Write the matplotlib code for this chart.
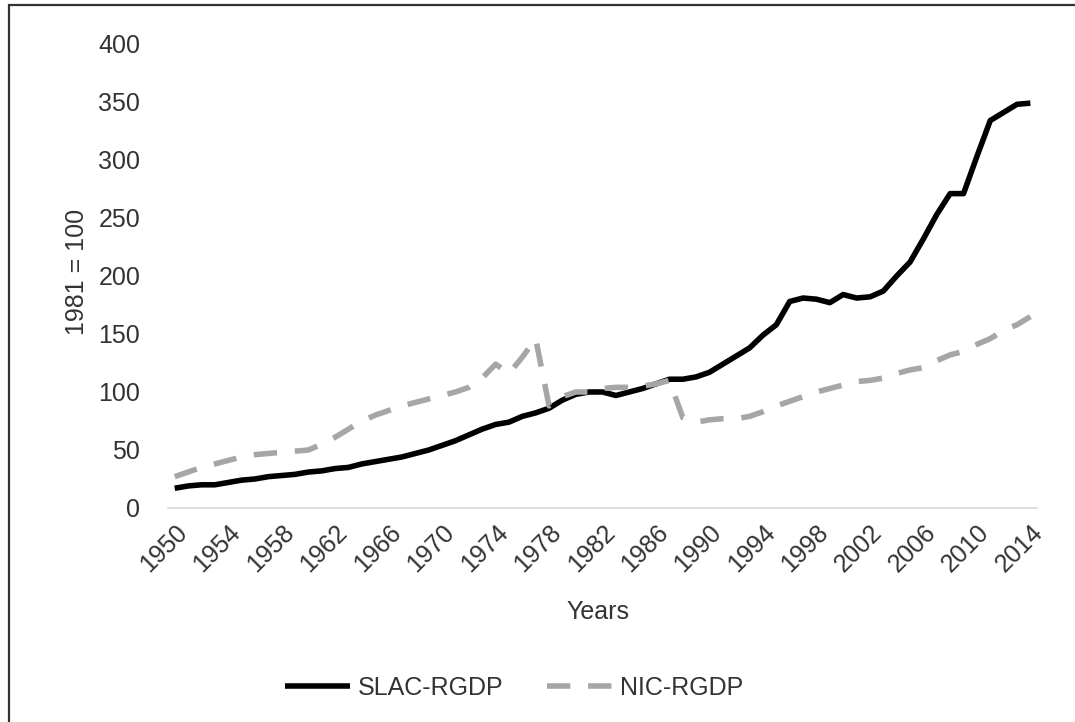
import matplotlib
matplotlib.use("Agg")
from matplotlib import pyplot as plt
from matplotlib.patches import Rectangle

# Data (1981 = 100)
years = list(range(1950, 2015))
slac_rgdp = [17, 19, 20, 20, 22, 24, 25, 27, 28, 29,
             31, 32, 34, 35, 38, 40, 42, 44, 47, 50,
             54, 58, 63, 68, 72, 74, 79, 82, 86, 93,
             98, 100, 100, 97, 100, 103, 107, 111, 111, 113,
             117, 124, 131, 138, 149, 158, 178, 181, 180, 177,
             184, 181, 182, 187, 200, 212, 232, 253, 271, 271,
             303, 334, 341, 348, 349]
nic_rgdp = [27, 31, 35, 38, 41, 44, 46, 47, 48, 49,
            50, 55, 61, 68, 75, 80, 84, 88, 91, 94,
            97, 100, 104, 112, 124, 116, 130, 146, 88, 96,
            100, 100, 103, 104, 104, 105, 107, 110, 78, 74,
            76, 77, 77, 79, 83, 88, 92, 96, 100, 103,
            106, 109, 110, 112, 116, 119, 121, 127, 132, 135,
            141, 146, 153, 158, 165]
tick_years = list(range(1950, 2015, 4))
y_ticks = [0, 50, 100, 150, 200, 250, 300, 350, 400]

plt.rcParams['font.family'] = ['Liberation Sans', 'DejaVu Sans']
txt = '#333333'
fs = 18

fig = plt.figure(figsize=(10.75, 7.22), dpi=100)
ax = fig.add_axes([0.1563, 0.2964, 0.8084, 0.6427])

# frame of the screenshot (only left and top visible)
fig.patches.append(Rectangle((9 / 1075, -0.1), 1.2, 1.1 - 5 / 722,
                             transform=fig.transFigure, fill=False,
                             edgecolor='#333333', linewidth=1.6))

ax.plot(years, slac_rgdp, color='black', linewidth=4, label='SLAC-RGDP',
        solid_capstyle='butt')
ax.plot(years, nic_rgdp, color='#a6a6a6', linewidth=4, label='NIC-RGDP',
        dashes=(4.2, 3.2))

ax.set_xlim(1949.5, 2014.5)
ax.set_ylim(0, 400)
ax.set_yticks(y_ticks)
ax.set_xticks(tick_years)
ax.set_xticklabels([str(y) for y in tick_years], rotation=45, ha='right',
                   va='top', rotation_mode='anchor')
ax.tick_params(axis='both', length=0, labelsize=fs, colors=txt)
ax.tick_params(axis='x', pad=9)
ax.tick_params(axis='y', pad=20)

for s in ['top', 'right', 'left']:
    ax.spines[s].set_visible(False)
ax.spines['bottom'].set_color('#d9d9d9')
ax.spines['bottom'].set_linewidth(1.2)

fig.text(77 / 1075, 1 - 272 / 722, '1981 = 100', rotation=90, ha='center',
         va='center', fontsize=fs, color=txt)
fig.text(598 / 1075, 1 - 612 / 722, 'Years', ha='center', va='center',
         fontsize=fs, color=txt)

fig.legend(loc='center', bbox_to_anchor=(514 / 1075, 1 - 688 / 722), ncol=2,
           frameon=False, fontsize=fs, handlelength=2.6, columnspacing=1.75,
           handletextpad=0.3, labelcolor=txt)

fig.savefig('out.png', dpi=100)
